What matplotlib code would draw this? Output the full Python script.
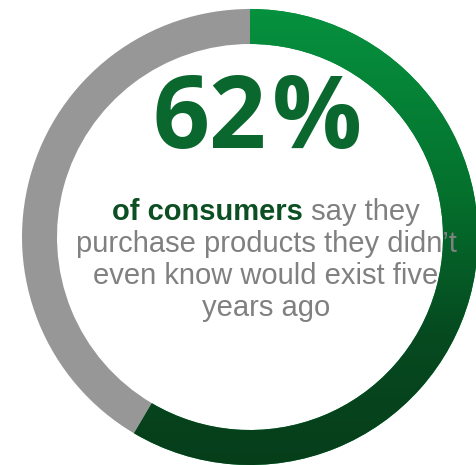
import matplotlib

matplotlib.use("Agg")
import matplotlib.pyplot as plt
import numpy as np
from matplotlib.colors import LinearSegmentedColormap

# ring shares as drawn (green arc, grey remainder), headline value and caption
ring_labels = ["consumers who buy new products", "others"]
ring_shares = [58.5, 41.5]
headline = "62"
caption_bold = "of consumers"
caption_lines = ["say they", "purchase products they didn\u2019t",
                 "even know would exist five", "years ago"]

W, H = 476, 465
GREEN_TOP = "#06923f"
GREEN_BOTTOM = "#063d1a"
GREY = "#979797"
HEAD_GREEN = "#0a672d"
BOLD_GREEN = "#0c4f23"
TEXT_GREY = "#808080"

fig = plt.figure(figsize=(W / 100, H / 100), dpi=100)
ax = fig.add_axes([0, 0, 1, 1])

cx, cy, r = 250, H - 237, 228
wedges, _ = ax.pie(ring_shares, center=(cx, cy), radius=r, startangle=90,
                   counterclock=False, colors=[GREEN_TOP, GREY],
                   wedgeprops=dict(width=35, linewidth=0))

# vertical gradient on the green arc, clipped to the wedge
cmap = LinearSegmentedColormap.from_list(
    "g", [(0, GREEN_BOTTOM), (0.3, "#064a20"), (0.6, "#04712d"), (1, GREEN_TOP)])
grad = np.linspace(0, 1, 256).reshape(-1, 1)
im = ax.imshow(grad, cmap=cmap, origin="lower", aspect="auto",
               extent=(cx - r, cx + r, -10, H - 5), zorder=2)
im.set_clip_path(wedges[0])

ax.set_xlim(0, W)
ax.set_ylim(0, H)
ax.set_aspect("equal")
ax.axis("off")

# headline number
ax.text(266, H - 148, headline, ha="right", va="baseline", fontsize=72,
        fontweight="bold", family="Open Sans", color=HEAD_GREEN)
ax.text(272, H - 148, "%", ha="left", va="baseline", fontsize=72,
        fontweight="bold", family="Open Sans", color=HEAD_GREEN)

# caption, first line mixes bold green and grey
fs = 21
tx = 266
fig.canvas.draw()
rend = fig.canvas.get_renderer()
t1 = ax.text(0, H - 220, caption_bold, ha="left", va="baseline", fontsize=fs,
             fontweight="bold", family="Liberation Sans", color=BOLD_GREEN)
t2 = ax.text(0, H - 220, " " + caption_lines[0], ha="left", va="baseline",
             fontsize=fs, family="Liberation Sans", color=TEXT_GREY)
w1 = t1.get_window_extent(rend).width
w2 = t2.get_window_extent(rend).width
x0 = tx - (w1 + w2) / 2
t1.set_x(x0)
t2.set_x(x0 + w1)

for i, line in enumerate(caption_lines[1:]):
    ax.text(tx, H - 252 - 32 * i, line, ha="center", va="baseline",
            fontsize=fs, family="Liberation Sans", color=TEXT_GREY)

fig.savefig("out.png", dpi=100)
